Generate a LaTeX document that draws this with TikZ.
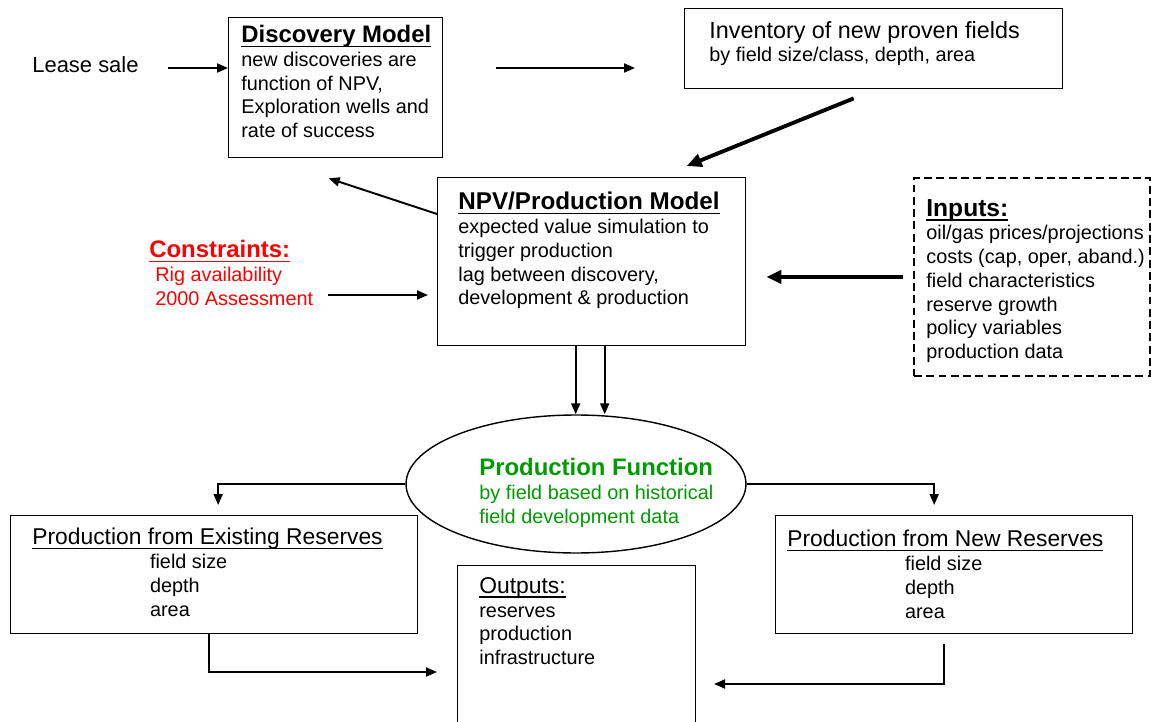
\documentclass[tikz,border=0pt]{standalone}
\usepackage{fontspec}
\setmainfont{Liberation Sans}
\usetikzlibrary{arrows.meta,positioning,shapes.geometric}
\definecolor{conred}{RGB}{255,0,0}
\definecolor{pfgreen}{RGB}{0,155,0}
\newcommand\ulin[1]{\setbox0\hbox{#1}\rlap{\rule[-2.6pt]{\wd0}{0.9pt}}\box0}
\newcommand\bodyf{\fontsize{11.3}{13.5}\selectfont}
\newcommand\headf{\fontsize{13.6}{16}\selectfont\bfseries}

\begin{document}
\begin{tikzpicture}[
  x=0.02cm, y=-0.02cm,
  box/.style={draw,line width=0.8pt,anchor=north west,inner sep=0pt},
  txt/.style={anchor=north west,inner sep=0pt,align=left,font=\bodyf},
  arr/.style={-{Triangle[length=2.2mm,width=1.8mm]},line width=1.1pt},
  fatarr/.style={-{Triangle[length=3mm,width=2.6mm]},line width=2.2pt}
]
\useasboundingbox (0,0) rectangle (1151,722);

% boxes
\node[box,minimum width=4.28cm,minimum height=2.8cm] (disc) at (228,17) {};
\node[box,minimum width=7.56cm,minimum height=1.6cm] (inv) at (684,8) {};
\node[box,minimum width=6.16cm,minimum height=3.36cm] (npv) at (437,177) {};
\node[box,line width=1.1pt,dash pattern=on 4.5pt off 2.5pt,minimum width=4.72cm,minimum height=3.96cm] (inp) at (913,177) {};
\node[draw,ellipse,line width=0.8pt,minimum width=6.8cm,minimum height=2.76cm,inner sep=0pt] (pf) at (576,484) {};
\node[box,minimum width=8.14cm,minimum height=2.36cm] (exist) at (10,515) {};
\node[box,minimum width=7.14cm,minimum height=2.36cm] (newr) at (775,515) {};
\node[box,minimum width=4.76cm,minimum height=3.3cm] (outp) at (457,565) {};

% texts
\node[anchor=base west,inner sep=0pt,font=\fontsize{12.5}{15}\selectfont] (lease) at (32,73) {Lease sale};
\node[txt] (disctxt) at ([shift={(13,8)}]disc.north west) {{\headf\ulin{Discovery Model}}\\new discoveries are\\function of NPV,\\Exploration wells and\\rate of success};
\node[txt] (invtxt) at ([shift={(25,13)}]inv.north west) {{\fontsize{13.3}{16}\selectfont Inventory of new proven fields}\\by field size/class, depth, area};
\node[txt] (npvtxt) at ([shift={(21,15)}]npv.north west) {{\fontsize{13.8}{16}\selectfont\bfseries\ulin{NPV/Production Model}}\\expected value simulation to\\trigger production\\lag between discovery,\\development \& production};
\node[txt] (inptxt) at ([shift={(13,22)}]inp.north west) {{\fontsize{14}{16}\selectfont\bfseries\ulin{Inputs:}}\\oil/gas prices/projections\\costs (cap, oper, aband.)\\field characteristics\\reserve growth\\policy variables\\production data};
\node[txt,text=conred] (contxt) at (149,240) {{\headf\ulin{Constraints:}}\\\hspace*{3.4pt}Rig availability\\\hspace*{3.4pt}2000 Assessment};
\node[txt,text=pfgreen] (pftxt) at (479,458) {{\headf Production Function}\\by field based on historical\\field development data};
\node[txt] (existtxt) at ([shift={(22,13)}]exist.north west) {{\fontsize{13}{16}\selectfont\ulin{Production from Existing Reserves}}\\\hspace*{67pt}field size\\\hspace*{67pt}depth\\\hspace*{67pt}area};
\node[txt] (newtxt) at ([shift={(12,15)}]newr.north west) {{\fontsize{13}{16}\selectfont\ulin{Production from New Reserves}}\\\hspace*{67pt}field size\\\hspace*{67pt}depth\\\hspace*{67pt}area};
\node[txt] (outtxt) at ([shift={(22,12)}]outp.north west) {{\fontsize{13}{16}\selectfont\ulin{Outputs:}}\\reserves\\production\\infrastructure};

% connectors
\coordinate (leaseout) at (168,68);
\coordinate (conout) at (328,295);
\coordinate (outin1) at (437,672);
\coordinate (outin2) at (714,684);
\draw[arr] (leaseout) -- (disc.west |- leaseout);
\draw[arr] ([xshift=1.06cm]disc.east |- leaseout) -- ([xshift=-0.98cm]inv.west |- leaseout);
\draw[fatarr] ([shift={(-20,9)}]inv.south) -- ([shift={(95,-11)}]npv.north);
\draw[arr] ([shift={(0,37)}]npv.north west) -- ([shift={(-7,20)}]disc.south);
\draw[arr] (conout) -- ([xshift=-0.18cm]npv.west |- conout);
\draw[fatarr] ([xshift=-0.2cm]inp.west) -- ([xshift=0.4cm]npv.east |- inp.west);
\draw[arr] ([xshift=-0.32cm]npv.south) -- ([xshift=-0.32cm]npv.south |- pf.north);
\draw[arr] ([xshift=0.26cm]npv.south) -- ([xshift=0.26cm]npv.south |- pf.north);
\draw[arr] (pf.west) -| ([shift={(4,-10)}]exist.north);
\draw[arr] (pf.east) -| ([shift={(-20,-10)}]newr.north);
\draw[arr] ([xshift=-0.11cm]exist.south) |- (outin1);
\draw[arr] ([shift={(-10,10)}]newr.south) |- (outin2);
\end{tikzpicture}
\end{document}
